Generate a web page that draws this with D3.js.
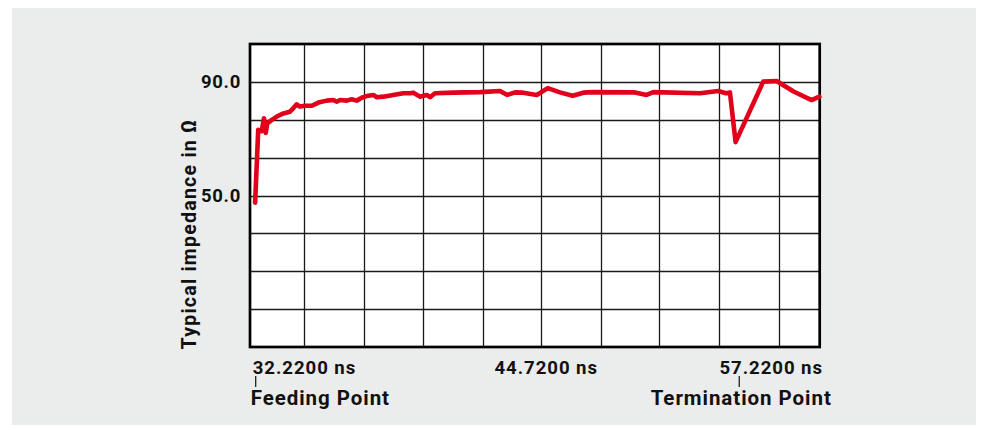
<!DOCTYPE html>
<html>
<head>
<meta charset="utf-8">
<script src="https://cdn.jsdelivr.net/npm/d3@7"></script>
<style>
  html, body { margin: 0; padding: 0; background: #ffffff; }
  svg { display: block; }
  text { font-family: Roboto, "Liberation Sans", sans-serif; font-weight: 700; fill: #111; }
</style>
</head>
<body>
<svg id="chart" width="982" height="430"></svg>
<script>
// ---- data ----
const timeNs = [32.19, 32.35, 32.53, 32.65, 32.74, 32.82, 33.05, 33.31, 33.65, 33.99, 34.16, 34.34, 34.51, 34.77,
  35.12, 35.46, 35.89, 36.23, 36.41, 36.58, 36.92, 37.18, 37.44, 37.70, 37.96, 38.30, 38.48, 38.82, 39.33,
  39.85, 40.20, 40.37, 40.71, 41.06, 41.23, 41.49, 42.44, 43.82, 44.85, 45.23, 45.63, 46.05, 46.75, 47.32,
  47.95, 48.61, 49.16, 49.67, 51.83, 52.43, 52.78, 55.19, 56.13, 56.53, 56.74, 57.03, 58.46, 59.15, 60.03,
  60.96, 61.36];
const impedance = [47.5, 73.1, 72.7, 77.2, 72.0, 75.4, 76.6, 77.8, 78.9, 79.5, 80.7, 82.1, 81.3, 81.6,
  81.6, 82.7, 83.4, 83.6, 83.0, 83.6, 83.4, 83.9, 83.4, 84.4, 85.0, 85.4, 84.6, 84.8, 85.4,
  86.0, 86.0, 86.2, 84.8, 85.4, 84.6, 86.0, 86.2, 86.4, 86.8, 85.4, 86.3, 86.2, 85.4, 87.8,
  86.3, 85.1, 86.2, 86.4, 86.3, 85.4, 86.4, 86.0, 86.8, 86.0, 86.3, 68.8, 90.1, 90.3, 86.6,
  83.6, 84.8];
const xGridNs = [34.73, 37.83, 40.85, 43.96, 46.97, 50.06, 53.07, 56.17, 59.27];
const yGridOhm = [90, 76.667, 63.333, 50, 36.667, 23.333, 10];
const yTickValues = [90, 50];
const yTickLabels = ["90.0", "50.0"];
const xTickValues = [32.22, 44.72, 57.22];
const xTickLabels = ["32.2200 ns", "44.7200 ns", "57.2200 ns"];
const endValues = [32.22, 57.22];
const endLabels = ["Feeding Point", "Termination Point"];
const yTitle = "Typical impedance in Ω";

// ---- layout ----
const svg = d3.select("#chart");
const plot = { left: 250, right: 819.7, top: 44, bottom: 347 };
const x = d3.scaleLinear().domain([31.925, 61.38]).range([plot.left, plot.right]);
const y = d3.scaleLinear().domain([-3.333, 103.333]).range([plot.bottom, plot.top]);

svg.append("rect").attr("x", 12).attr("y", 8).attr("width", 964).attr("height", 417).attr("fill", "#ebecec");
svg.append("rect").attr("x", plot.left).attr("y", plot.top)
  .attr("width", plot.right - plot.left).attr("height", plot.bottom - plot.top).attr("fill", "#ffffff");

// grid
svg.append("g").selectAll("line").data(xGridNs).join("line")
  .attr("x1", d => Math.round(x(d)) + 0.5).attr("x2", d => Math.round(x(d)) + 0.5)
  .attr("y1", plot.top).attr("y2", plot.bottom)
  .attr("stroke", "#1a1a1a").attr("stroke-width", 1.3);
svg.append("g").selectAll("line").data(yGridOhm).join("line")
  .attr("y1", d => Math.round(y(d)) + 0.5).attr("y2", d => Math.round(y(d)) + 0.5)
  .attr("x1", plot.left).attr("x2", plot.right)
  .attr("stroke", "#1a1a1a").attr("stroke-width", 1.3);

// frame
svg.append("rect").attr("x", plot.left).attr("y", plot.top)
  .attr("width", plot.right - plot.left).attr("height", plot.bottom - plot.top)
  .attr("fill", "none").attr("stroke", "#000").attr("stroke-width", 2.7);

// curve
const pts = timeNs.map((t, i) => [t, impedance[i]]);
svg.append("path").datum(pts)
  .attr("d", d3.line().x(d => x(d[0])).y(d => y(d[1])))
  .attr("fill", "none").attr("stroke", "#e2001a").attr("stroke-width", 4.6)
  .attr("stroke-linejoin", "round").attr("stroke-linecap", "round");

// y tick labels
svg.append("g").selectAll("text").data(yTickValues).join("text")
  .attr("x", 241).attr("y", d => y(d) + 6)
  .attr("text-anchor", "end").attr("font-size", 18.5).attr("letter-spacing", 0.7)
  .text((d, i) => yTickLabels[i]);

// y title
svg.append("text")
  .attr("transform", "translate(195.5,234) rotate(-90)")
  .attr("text-anchor", "middle").attr("font-size", 19.5).attr("letter-spacing", 1.25)
  .text(yTitle);

// x tick labels
const xt = svg.append("g").selectAll("text").data(xTickValues).join("text")
  .attr("x", d => x(d) - 3).attr("y", 373.5)
  .attr("font-size", 18.6).attr("letter-spacing", 0.95)
  .text((d, i) => xTickLabels[i]);
xt.each(function () {
  const w = this.getComputedTextLength();
  const x0 = +this.getAttribute("x");
  if (x0 + w > 823) this.setAttribute("x", 823 - w);
});

// endpoint markers
svg.append("g").selectAll("line").data(endValues).join("line")
  .attr("x1", d => x(d)).attr("x2", d => x(d))
  .attr("y1", 376).attr("y2", 387)
  .attr("stroke", "#111").attr("stroke-width", 1.2);
svg.append("g").selectAll("text").data(endValues).join("text")
  .attr("x", (d, i) => i === 0 ? x(d) - 5 : x(d) + 2)
  .attr("y", 405)
  .attr("text-anchor", (d, i) => i === 0 ? "start" : "middle")
  .attr("font-size", 20.5).attr("letter-spacing", 0.95)
  .text((d, i) => endLabels[i]);
</script>
</body>
</html>
